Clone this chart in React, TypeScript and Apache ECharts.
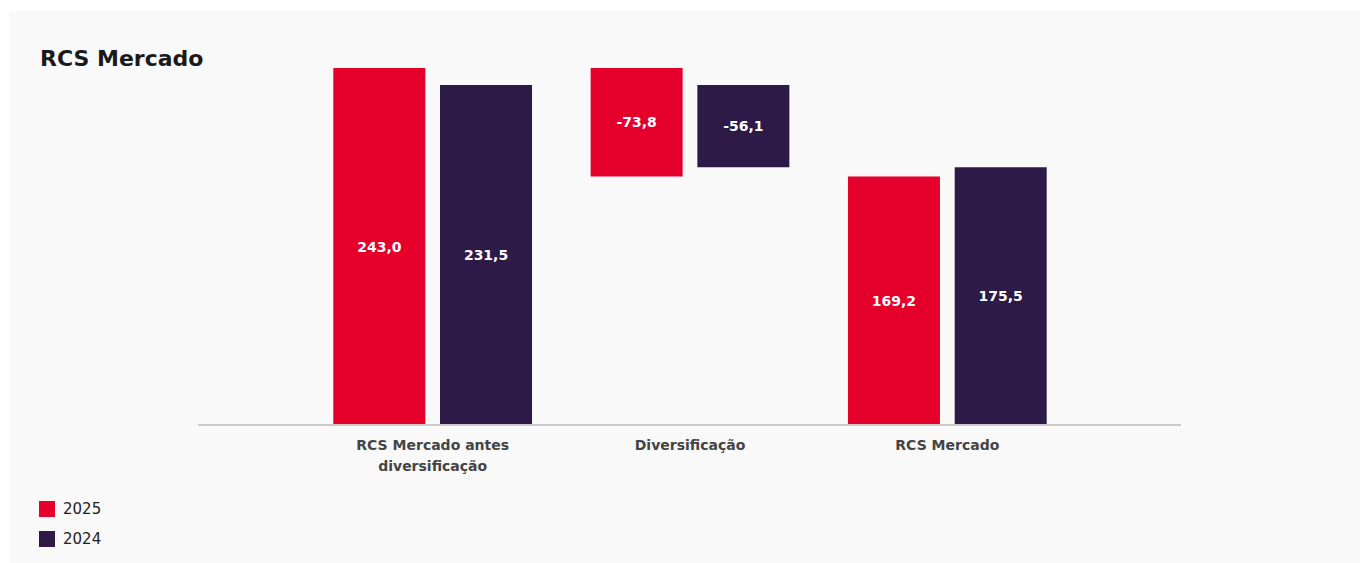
import React, { useEffect, useRef } from "react";
import * as echarts from "echarts";

const categories = ["RCS Mercado antes\ndiversificação", "Diversificação", "RCS Mercado"];
const seriesNames = ["2025", "2024"];
const values2025 = [243.0, -73.8, 169.2];
const values2024 = [231.5, -56.1, 175.5];
const colors = ["#E4002B", "#2D1A47"];

const FONT = "'DejaVu Sans', sans-serif";

function buildWaterfall(vals: number[]) {
  // first and last are totals, middle ones are deltas from the running total
  const base: number[] = [];
  const shown: number[] = [];
  let running = 0;
  vals.forEach((v, i) => {
    if (i === 0 || i === vals.length - 1) {
      base.push(0);
      shown.push(Math.abs(v));
      running = v;
    } else {
      const next = running + v;
      base.push(Math.min(running, next));
      shown.push(Math.abs(v));
      running = next;
    }
  });
  return { base, shown };
}

const fmt = (v: number) => v.toFixed(1).replace(".", ",");

export default function App() {
  const ref = useRef<HTMLDivElement>(null);
  useEffect(() => {
    if (!ref.current) return;
    const chart = echarts.init(ref.current, undefined, { renderer: "svg" });
    const w25 = buildWaterfall(values2025);
    const w24 = buildWaterfall(values2024);
    const mk = (name: string, wf: { base: number[]; shown: number[] }, raw: number[], color: string, stack: string) => [
      {
        name: name + "_base",
        type: "bar",
        stack,
        data: wf.base,
        itemStyle: { color: "transparent" },
        barWidth: 92,
        barGap: "16%",
        silent: true,
        label: { show: false },
      },
      {
        name,
        type: "bar",
        stack,
        data: wf.shown,
        itemStyle: { color },
        barWidth: 92,
        barGap: "16%",
        label: {
          show: true,
          position: "inside",
          color: "#ffffff",
          fontFamily: FONT,
          fontWeight: "bold",
          fontSize: 14,
          formatter: (p: any) => fmt(raw[p.dataIndex]),
        },
      },
    ];
    chart.setOption({
      animation: false,
      backgroundColor: "transparent",
      title: {
        text: "RCS Mercado",
        left: 35,
        top: 42,
        textStyle: { fontFamily: FONT, fontWeight: "bold", fontSize: 22, color: "#1a1a1a" },
      },
      legend: {
        data: seriesNames,
        orient: "vertical",
        left: 34,
        top: 496,
        itemWidth: 16,
        itemHeight: 16,
        itemGap: 14,
        icon: "rect",
        textStyle: { fontFamily: FONT, fontSize: 15, color: "#222", padding: [0, 0, 0, 3] },
      },
      grid: { left: 304, right: 1360 - 1076, top: 68, bottom: 138, containLabel: false },
      xAxis: {
        type: "category",
        data: categories,
        axisLine: { show: false },
        axisTick: { show: false },
        axisLabel: {
          margin: 9,
          fontFamily: FONT,
          fontWeight: 600,
          fontSize: 14,
          color: "#444",
          lineHeight: 21,
          interval: 0,
        },
      },
      yAxis: {
        type: "value",
        min: 0,
        max: 243,
        show: false,
        splitLine: { show: false },
      },
      graphic: [
        {
          type: "line",
          shape: { x1: 198, y1: 425, x2: 1181, y2: 425 },
          style: { stroke: "#cccccc", lineWidth: 2 },
          z: 10,
        },
      ],
      series: [
        ...mk(seriesNames[0], w25, values2025, colors[0], "a"),
        ...mk(seriesNames[1], w24, values2024, colors[1], "b"),
      ],
    });
    return () => chart.dispose();
  }, []);
  return (
    <div style={{ position: "absolute", left: 0, top: 0, width: 1360, height: 563, background: "#ffffff" }}>
      <div style={{ position: "absolute", left: 9, top: 11, right: 0, bottom: 0, background: "#f9f9f9" }} />
      <div ref={ref} style={{ position: "absolute", left: 0, top: 0, width: 1360, height: 563 }} />
    </div>
  );
}
